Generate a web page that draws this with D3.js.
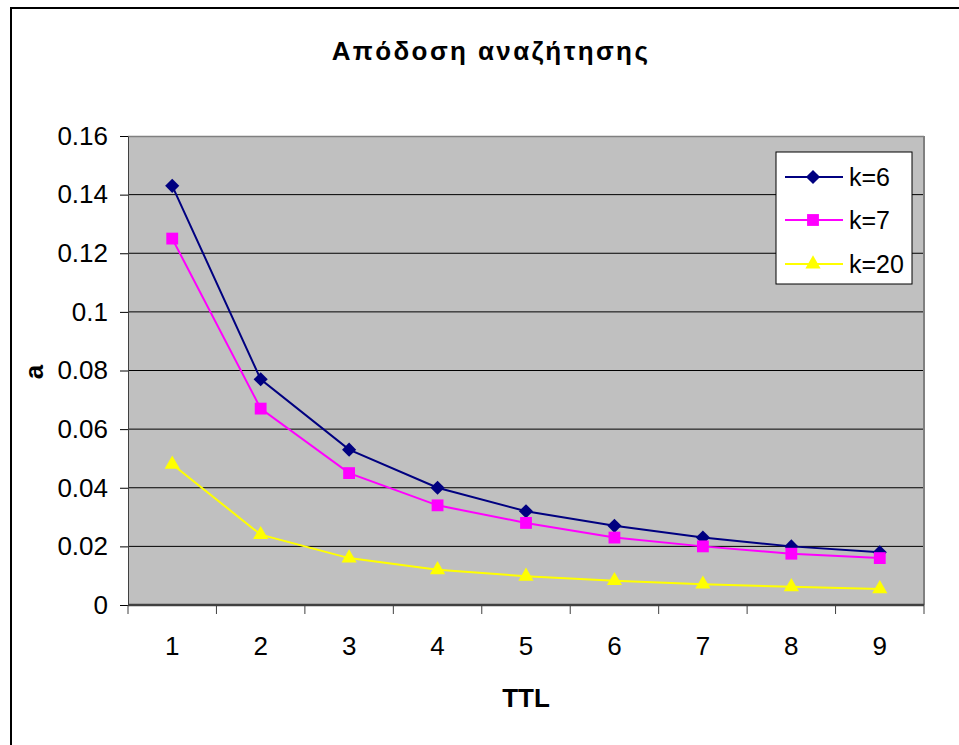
<!DOCTYPE html>
<html>
<head>
<meta charset="utf-8">
<script src="https://cdn.jsdelivr.net/npm/d3@7"></script>
<style>
  body { margin: 0; background: #fff; }
  text { font-family: "Liberation Sans", Arial, sans-serif; }
</style>
</head>
<body>
<div id="chart"></div>
<script>
// data
var ttl = [1, 2, 3, 4, 5, 6, 7, 8, 9];
var k6 = [0.143, 0.077, 0.053, 0.040, 0.032, 0.027, 0.023, 0.020, 0.018];
var k7 = [0.125, 0.067, 0.045, 0.034, 0.028, 0.023, 0.020, 0.0175, 0.016];
var k20 = [0.048, 0.024, 0.016, 0.012, 0.0098, 0.0083, 0.0071, 0.0062, 0.0055];
var yTicks = [0, 0.02, 0.04, 0.06, 0.08, 0.1, 0.12, 0.14, 0.16];
var seriesNames = ["k=6", "k=7", "k=20"];

var svgWidth = 959;
var svgHeight = 745;
var margin = { top: 136, right: 35, bottom: 140, left: 128 };
var width = svgWidth - margin.left - margin.right;
var height = svgHeight - margin.top - margin.bottom;

var svg = d3.select("#chart")
  .append("svg")
  .attr("width", svgWidth)
  .attr("height", svgHeight);

// outer chart frame (right/bottom run past the window)
svg.append("rect")
  .attr("x", 11).attr("y", 8)
  .attr("width", 980).attr("height", 780)
  .attr("fill", "white")
  .attr("stroke", "black")
  .attr("stroke-width", 2);

svg.append("text")
  .attr("x", 491)
  .attr("y", 60)
  .attr("text-anchor", "middle")
  .attr("font-size", "26px")
  .attr("font-weight", "bold")
  .attr("letter-spacing", "2.4px")
  .text("Απόδοση αναζήτησης");

var chartGroup = svg.append("g")
  .attr("transform", `translate(${margin.left}, ${margin.top})`);

var xBand = d3.scaleBand().domain(ttl).range([0, width]);
var xScale = d => xBand(d) + xBand.bandwidth() / 2;
var yScale = d3.scaleLinear().domain([0, 0.16]).range([height, 0]);

chartGroup.append("rect")
  .attr("width", width).attr("height", height)
  .attr("fill", "#c0c0c0");

// gridlines
chartGroup.selectAll(".grid")
  .data(yTicks.filter(t => t > 0 && t < 0.16))
  .enter().append("line")
  .attr("x1", 0).attr("x2", width)
  .attr("y1", d => yScale(d)).attr("y2", d => yScale(d))
  .attr("stroke", "black").attr("stroke-width", 1);

// plot border
chartGroup.append("line").attr("x1", 0).attr("x2", width).attr("y1", 0.5).attr("y2", 0.5)
  .attr("stroke", "#808080").attr("stroke-width", 1.5);
chartGroup.append("line").attr("x1", width).attr("x2", width).attr("y1", 0).attr("y2", height)
  .attr("stroke", "#808080").attr("stroke-width", 2);

// y axis
var leftAxis = d3.axisLeft(yScale)
  .tickValues(yTicks)
  .tickFormat(d => d === 0 ? "0" : String(+d.toFixed(2)))
  .tickSize(8).tickSizeOuter(0).tickPadding(12);
var yAxis = chartGroup.append("g").call(leftAxis);
yAxis.select(".domain").attr("stroke", "#404040");
yAxis.selectAll("text").attr("font-size", "26px").attr("fill", "black")
  .attr("font-family", "Liberation Sans, Arial, sans-serif");

// x axis, ticks at category boundaries
var xEdges = d3.range(ttl.length + 1).map(i => i * xBand.step());
var xAxis = chartGroup.append("g").attr("transform", `translate(0, ${height})`);
xAxis.append("line").attr("x1", 0).attr("x2", width)
  .attr("stroke", "#404040").attr("stroke-width", 2.5);
xAxis.selectAll(".tk").data(xEdges).enter().append("line")
  .attr("x1", d => d).attr("x2", d => d).attr("y1", 0).attr("y2", 9)
  .attr("stroke", "#404040").attr("stroke-width", 1);
xAxis.selectAll(".lbl").data(ttl).enter().append("text")
  .attr("x", d => xScale(d)).attr("y", 50)
  .attr("text-anchor", "middle").attr("font-size", "26px")
  .text(d => d);

// axis titles
svg.append("text")
  .attr("x", 526).attr("y", 707)
  .attr("text-anchor", "middle")
  .attr("font-size", "26px").attr("font-weight", "bold")
  .text("TTL");
svg.append("text")
  .attr("transform", "translate(43, 372) rotate(-90)")
  .attr("text-anchor", "middle")
  .attr("font-size", "26px").attr("font-weight", "bold")
  .text("a");

var series = [
  { name: seriesNames[0], values: k6, color: "#000080", symbol: d3.symbolSquare, size: 100, rot: 45 },
  { name: seriesNames[1], values: k7, color: "#ff00ff", symbol: d3.symbolSquare, size: 140, rot: 0 },
  { name: seriesNames[2], values: k20, color: "#ffff00", symbol: d3.symbolTriangle, size: 100, rot: 0 }
];

var line = d3.line().x((d, i) => xScale(ttl[i])).y(d => yScale(d));

series.forEach(function(s) {
  chartGroup.append("path")
    .datum(s.values)
    .attr("d", line)
    .attr("fill", "none")
    .attr("stroke", s.color)
    .attr("stroke-width", 2);
  chartGroup.selectAll(null)
    .data(s.values)
    .enter().append("path")
    .attr("d", d3.symbol().type(s.symbol).size(s.size))
    .attr("transform", (d, i) => `translate(${xScale(ttl[i])}, ${yScale(d)}) rotate(${s.rot})`)
    .attr("fill", s.color);
});

// legend
var legend = svg.append("g");
legend.append("rect")
  .attr("x", 776).attr("y", 152)
  .attr("width", 136).attr("height", 132)
  .attr("fill", "white").attr("stroke", "black").attr("stroke-width", 1);
var rowY = [177, 220, 264];
series.forEach(function(s, i) {
  legend.append("line")
    .attr("x1", 785).attr("x2", 843)
    .attr("y1", rowY[i]).attr("y2", rowY[i])
    .attr("stroke", s.color).attr("stroke-width", 2);
  legend.append("path")
    .attr("d", d3.symbol().type(s.symbol).size(s.size))
    .attr("transform", `translate(813, ${rowY[i]}) rotate(${s.rot})`)
    .attr("fill", s.color);
  legend.append("text")
    .attr("x", 849).attr("y", rowY[i] + 9)
    .attr("font-size", "25px")
    .text(s.name);
});
</script>
</body>
</html>
